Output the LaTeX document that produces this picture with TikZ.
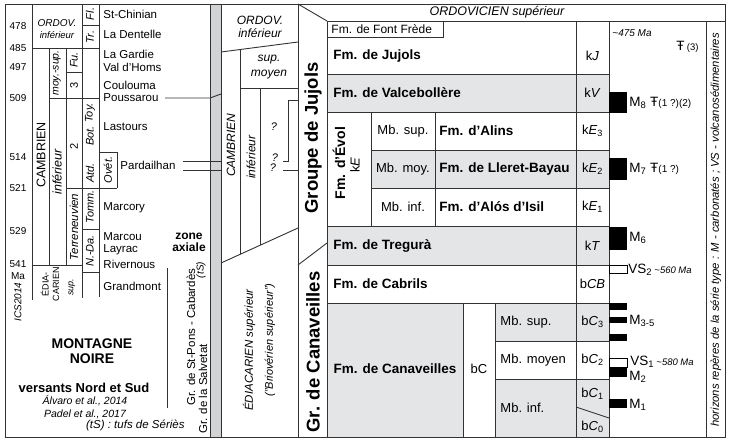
\documentclass[tikz,border=0pt]{standalone}
\usepackage{fontspec}
\setmainfont{Liberation Sans}
\usetikzlibrary{positioning}
\definecolor{rowgray}{RGB}{228,229,231}
\definecolor{bandgray}{RGB}{210,211,213}
\definecolor{linegray}{RGB}{50,50,50}
\newcommand\fsz[1]{\fontsize{#1}{#1}\selectfont}

\begin{document}
\begin{tikzpicture}[x=1pt, y=-1pt, line width=0.9pt,
  ln/.style={draw=linegray},
  fm/.style={font=\fsz{13.5}\bfseries, anchor=west, inner sep=0pt},
  mb/.style={font=\fsz{13}, inner sep=0pt},
  codelab/.style={font=\fsz{13}, inner sep=0pt},
  loc/.style={font=\fsz{11.5}, anchor=west, inner sep=0pt},
  age/.style={font=\fsz{10}, inner sep=0pt},
  stage/.style={font=\fsz{11}\itshape, rotate=90, inner sep=0pt},
  vlab/.style={rotate=90, inner sep=0pt},
  lab/.style={inner sep=0pt},
  mlab/.style={font=\fsz{13.5}, anchor=west, inner sep=0pt},
  hz/.style={fill=black},
  vs/.style={draw=black, fill=white, line width=0.7pt}]
  \useasboundingbox (0,0) rectangle (729,440);

  % shaded rows and band
  \fill[bandgray] (210,4) rectangle (221,437);
  \fill[rowgray] (327,74) rectangle (609,112);
  \fill[rowgray] (371,150) rectangle (609,188);
  \fill[rowgray] (327,226) rectangle (609,265);
  \fill[rowgray] (327,303) rectangle (463,437);
  \fill[rowgray] (495,303) rectangle (609,341);
  \fill[rowgray] (495,379) rectangle (609,437);

  % frame
  \draw[ln] (5,4) rectangle (725,437);
  \draw[ln] (210,4) -- (210,437) (221,4) -- (221,437);

  % Montagne Noire grid
  \draw[ln] (32,4) -- (32,300) (82,4) -- (82,298) (99,4) -- (99,297);
  \draw[ln] (49,48) -- (49,265) (66,48) -- (66,265);
  \draw[ln] (32,48) -- (99,48) (82,25) -- (99,25) (66,72) -- (82,72);
  \draw[ln] (49,98) -- (99,98) (66,188) -- (117,188) (82,229) -- (99,229);
  \draw[ln] (32,265) -- (82,265) (82,272) -- (99,272);
  \draw[ln] (99,152) -- (117,152) -- (117,188);
  \draw[ln] (167,268) -- (167,408);

  % correlations
  \draw[ln] (165,98) -- (210,98) -- (221,94);
  \draw[ln] (183,161) -- (221,161) (183,170) -- (221,170);

  % middle column
  \draw[ln] (298,4) -- (298,437);
  \draw[ln] (221,52) -- (298,42) (221,263) -- (298,228);
  \draw[ln] (240,49.5) -- (240,254.4) (260,88) -- (260,245.3) (240,88) -- (298,88);
  \draw[ln] (283,161) -- (288,161) -- (288,100) -- (298,100) (283,170) -- (298,170);

  % group column
  \draw[ln] (298,4) -- (327,21) (298,265) -- (327,243);

  % Pyrenees table
  \draw[ln] (327,21) -- (725,21) (327,21) -- (327,437);
  \draw[ln] (576,21) -- (576,437) (609,21) -- (609,437) (706,21) -- (706,437);
  \draw[ln] (327,37) -- (443,37) -- (443,21);
  \foreach \yy in {74,112,226,265,303}
    \draw[ln] (327,\yy) -- (609,\yy);
  \draw[ln] (371,150) -- (609,150) (371,188) -- (609,188);
  \draw[ln] (371,112) -- (371,226) (435,112) -- (435,226);
  \draw[ln] (463,303) -- (463,437) (495,303) -- (495,437);
  \draw[ln] (495,341) -- (609,341) (495,379) -- (609,379);
  \draw[ln] (576,407) -- (609,418);

  % marker horizons
  \foreach \ya/\yb in {92/113,158/180,227/250,303/310,317/323,334/341,368/377,399/408}
    \fill[hz] (609,\ya) rectangle (627,\yb);
  \draw[vs] (609,265) rectangle (627,273);
  \draw[vs] (609,358) rectangle (627,367);

  % ages
  \foreach \yy/\aa in {26/478,48/485,67/497,98/509,157/514,188/521,231/529,264/541,276/Ma}
    \node[age] (age\aa) at (18,\yy) {\aa};
  \node[stage, font=\fsz{10}\itshape] (ics) at (18,302) {ICS2014};

  % chronostratigraphy, left
  \node[lab, font=\fsz{10}\itshape] (ordL) at (57,23) {ORDOV.};
  \node[lab, font=\fsz{9.5}\itshape] (ordLi) at (57,35) {inférieur};
  \node[stage] (fl) at (90,14) {Fl.};
  \node[stage] (tr) at (90,37) {Tr.};
  \node[vlab, font=\fsz{12.5}] (cambL) at (41,155) {CAMBRIEN};
  \node[stage, font=\fsz{10.5}\itshape] (moysup) at (57,73) {moy.-sup.};
  \node[stage, font=\fsz{12.5}\itshape] (infL) at (57,172) {inférieur};
  \node[stage] (fu) at (74,60) {Fu.};
  \node[vlab, font=\fsz{11}] (s3) at (74,85) {3};
  \node[vlab, font=\fsz{11}] (s2) at (74,146) {2};
  \node[stage, font=\fsz{11.5}\itshape] (terr) at (74,227) {Terreneuvien};
  \node[stage] (toy) at (90,113) {Toy.};
  \node[stage] (bot) at (90,136) {Bot.};
  \node[stage] (atd) at (90,173) {Atd.};
  \node[stage] (tomm) at (90,207) {Tomm.};
  \node[stage] (nda) at (90,251) {N.-Da.};
  \node[stage] (ovet) at (108,170) {Ovét.};
  \node[vlab, font=\fontsize{9}{10.5}\selectfont, align=center] (ediaL) at (50,284) {ÉDIA-\\CARIEN};
  \node[stage, font=\fsz{9}\itshape] (supL) at (72,287) {sup.};

  % localities
  \foreach \yy/\pn in {14/St-Chinian,34/La Dentelle,54/La Gardie,67/Val d'Homs,85/Coulouma,98/Poussarou,127/Lastours,208/Marcory,237/Marcou,250/Layrac,264/Rivernous,286/Grandmont}
    \node[loc] at (103,\yy) {\pn};
  \node[loc] (pard) at (120,165) {Pardailhan};

  \node[lab, font=\fsz{12}\bfseries] (zone) at (189,236) {zone};
  \node[lab, font=\fsz{12}\bfseries, below=3pt of zone] (axiale) {axiale};
  \node[stage, font=\fsz{10}\itshape] (ts) at (201,270) {(tS)};
  \node[vlab, font=\fsz{11.5}] (stpons) at (191,337) {Gr. de St-Pons - Cabardès};
  \node[vlab, font=\fsz{11.5}] (salv) at (203,389) {Gr. de la Salvetat};

  \node[lab, font=\fontsize{14}{15}\selectfont\bfseries, align=center] (mn) at (92,351) {MONTAGNE\\NOIRE};
  \node[lab, font=\fsz{13}\bfseries] (vers) at (84,388) {versants Nord et Sud};
  \node[lab, font=\fsz{10.5}\itshape] (alv) at (85,401) {Álvaro et al., 2014};
  \node[lab, font=\fsz{10.5}\itshape, below=3pt of alv] (pad) {Padel et al., 2017};
  \node[lab, font=\fsz{11.5}\itshape, anchor=east] (tufs) at (185,425) {(tS) : tufs de Sériès};

  % middle column texts
  \node[lab, font=\fsz{12}\itshape] (ordM) at (260,20) {ORDOV.};
  \node[lab, font=\fsz{12}\itshape] (ordMi) at (260,33) {inférieur};
  \node[lab, font=\fsz{12}\itshape] (supM) at (269,60) {sup.};
  \node[lab, font=\fsz{12}\itshape] (moyM) at (269,75) {moyen};
  \node[stage, font=\fsz{12}\itshape] (cambM) at (231,145) {CAMBRIEN};
  \node[stage, font=\fsz{12}\itshape] (infM) at (251,157) {inférieur};
  \node[lab, font=\fsz{11}\itshape] (q1) at (274,127) {?};
  \node[lab, font=\fsz{11}\itshape] (q2) at (275,158) {?};
  \node[lab, font=\fsz{11}\itshape] (q3) at (273,168) {?};
  \node[stage, font=\fsz{11.5}\itshape] (ediaM) at (249,350) {ÉDIACARIEN supérieur};
  \node[stage, font=\fsz{11}\itshape] (brio) at (270,340) {("Briovérien supérieur")};

  % groups
  \node[vlab, font=\fsz{18.5}\bfseries] (jujols) at (313,138) {Groupe de Jujols};
  \node[vlab, font=\fsz{18.5}\bfseries] (canav) at (313,352) {Gr. de Canaveilles};

  % formations
  \node[lab, font=\fsz{12.5}\itshape] (ordsup) at (497,12) {ORDOVICIEN supérieur};
  \node[lab, font=\fsz{12}, anchor=west] (ffrede) at (331,29) {Fm. de Font Frède};
  \node[fm] (fjuj) at (333,56) {Fm. de Jujols};
  \node[fm] (fval) at (333,93) {Fm. de Valcebollère};
  \node[vlab, font=\fsz{14}\bfseries] (fevol) at (339,163) {Fm. d'Évol};
  \node[vlab, font=\fsz{13}] (kE) at (355,165) {k\textit{E}};
  \node[mb] (mbs1) at (403,131) {Mb. sup.};
  \node[mb] (mbm1) at (403,169) {Mb. moy.};
  \node[mb] (mbi1) at (403,207) {Mb. inf.};
  \node[fm] (falins) at (439,131) {Fm. d'Alins};
  \node[fm] (fller) at (439,169) {Fm. de Lleret-Bayau};
  \node[fm] (falos) at (439,207) {Fm. d'Alós d'Isil};
  \node[fm] (ftreg) at (333,246) {Fm. de Tregurà};
  \node[fm] (fcab) at (333,284) {Fm. de Cabrils};
  \node[fm, anchor=center] (fcan) at (395,369) {Fm. de Canaveilles};
  \node[mb] (bC) at (479,369) {bC};
  \node[mb, anchor=west] (mbs2) at (500,322) {Mb. sup.};
  \node[mb, anchor=west] (mbm2) at (500,360) {Mb. moyen};
  \node[mb, anchor=west] (mbi2) at (500,408) {Mb. inf.};

  % codes
  \node[codelab] at (592.5,56) {k\textit{J}};
  \node[codelab] at (592.5,93) {k\textit{V}};
  \node[codelab] at (592.5,131) {k\textit{E}\textsubscript{3}};
  \node[codelab] at (592.5,169) {k\textit{E}\textsubscript{2}};
  \node[codelab] at (592.5,207) {k\textit{E}\textsubscript{1}};
  \node[codelab] at (592.5,246) {k\textit{T}};
  \node[codelab] at (592.5,284) {b\textit{CB}};
  \node[codelab] at (592.5,322) {b\textit{C}\textsubscript{3}};
  \node[codelab] at (592.5,360) {b\textit{C}\textsubscript{2}};
  \node[codelab] at (592.5,394) {b\textit{C}\textsubscript{1}};
  \node[codelab] at (592.5,427) {b\textit{C}\textsubscript{0}};

  % horizon labels
  \node[lab, font=\fsz{10}\itshape, anchor=west] (age475) at (612,33) {\textasciitilde475 Ma};
  \node[mlab] (f3) at (676,47) {Ŧ\,{\fsz{9.5}(3)}};
  \node[mlab] (m8) at (629,103) {M\textsubscript{8} Ŧ{\fsz{10}(1 ?)(2)}};
  \node[mlab] (m7) at (629,169) {M\textsubscript{7} Ŧ{\fsz{10}(1 ?)}};
  \node[mlab] (m6) at (629,238) {M\textsubscript{6}};
  \node[mlab] (vs2) at (628,270) {VS\textsubscript{2}\,{\fsz{9.5}\itshape\textasciitilde560 Ma}};
  \node[mlab] (m35) at (629,321) {M\textsubscript{3-5}};
  \node[mlab] (vs1) at (630,362) {VS\textsubscript{1}\,{\fsz{9.5}\itshape\textasciitilde580 Ma}};
  \node[mlab] (m2) at (629,377) {M\textsubscript{2}};
  \node[mlab] (m1) at (629,405) {M\textsubscript{1}};

  \node[vlab, font=\fsz{11.3}\itshape] (legend) at (716,230) {horizons repères de la série type : M - carbonatés ; VS - volcanosédimentaires};
\end{tikzpicture}
\end{document}
